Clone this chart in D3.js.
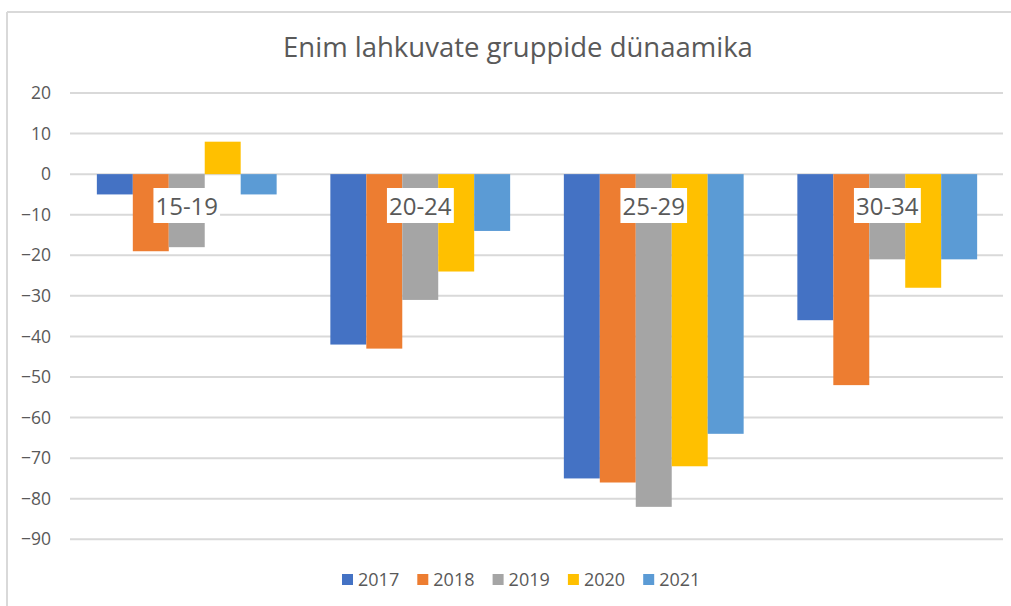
<!DOCTYPE html>
<html>
<head>
<meta charset="utf-8">
<script src="https://cdn.jsdelivr.net/npm/d3@7"></script>
<style>
  body { margin: 0; background: #fff; }
  text { font-family: "Open Sans", sans-serif; }
</style>
</head>
<body>
<script>
var svgW = 1011;
var svgH = 606;

var categories = ["15-19", "20-24", "25-29", "30-34"];
var years = ["2017", "2018", "2019", "2020", "2021"];
var v2017 = [-5, -42, -75, -36];
var v2018 = [-19, -43, -76, -52];
var v2019 = [-18, -31, -82, -21];
var v2020 = [8, -24, -72, -28];
var v2021 = [-5, -14, -64, -21];
var yTicks = [20, 10, 0, -10, -20, -30, -40, -50, -60, -70, -80, -90];
var colors = ["#4472c4", "#ed7d31", "#a5a5a5", "#ffc000", "#5b9bd5"];
var title = "Enim lahkuvate gruppide dünaamika";

var seriesVals = [v2017, v2018, v2019, v2020, v2021];

var svg = d3.select("body")
  .append("svg")
  .attr("width", svgW)
  .attr("height", svgH);

// chart frame (top + left edge visible)
svg.append("line")
  .attr("x1", 7).attr("x2", svgW)
  .attr("y1", 12).attr("y2", 12)
  .attr("stroke", "#d9d9d9").attr("stroke-width", 2);
svg.append("line")
  .attr("x1", 7).attr("x2", 7)
  .attr("y1", 12).attr("y2", svgH)
  .attr("stroke", "#d9d9d9").attr("stroke-width", 2);

svg.append("text")
  .attr("x", 518)
  .attr("y", 57)
  .attr("text-anchor", "middle")
  .attr("font-size", "27.5px")
  .attr("fill", "#595959")
  .text(title);

var y = d3.scaleLinear()
  .domain([-90, 20])
  .range([539.3, 93]);

var x = d3.scaleBand()
  .domain(categories)
  .range([70, 1004])
  .paddingInner(0.23)
  .paddingOuter(0.115);

var xSub = d3.scaleBand()
  .domain(years)
  .range([0, x.bandwidth()]);

// gridlines
svg.append("g")
  .selectAll("line")
  .data(yTicks)
  .enter()
  .append("line")
  .attr("x1", 70)
  .attr("x2", 1003)
  .attr("y1", function(d) { return y(d); })
  .attr("y2", function(d) { return y(d); })
  .attr("stroke", "#d9d9d9")
  .attr("stroke-width", 2);

// y axis labels
var yAxis = d3.axisLeft(y)
  .tickValues(yTicks)
  .tickSize(0)
  .tickPadding(0)
  .tickFormat(d3.format("d"));

var gy = svg.append("g")
  .attr("transform", "translate(51,0)")
  .call(yAxis);
gy.select(".domain").remove();
gy.selectAll("text")
  .attr("font-size", "17.5px")
  .attr("font-family", "Open Sans, sans-serif")
  .attr("fill", "#595959");

// bars
var groups = svg.append("g")
  .selectAll("g")
  .data(categories)
  .enter()
  .append("g")
  .attr("transform", function(d) { return "translate(" + x(d) + ",0)"; });

groups.selectAll("rect")
  .data(function(d, i) {
    return years.map(function(yr, j) {
      return { year: yr, value: seriesVals[j][i], idx: j };
    });
  })
  .enter()
  .append("rect")
  .attr("x", function(d) { return xSub(d.year); })
  .attr("width", xSub.bandwidth())
  .attr("y", function(d) { return y(Math.max(0, d.value)); })
  .attr("height", function(d) { return Math.abs(y(d.value) - y(0)); })
  .attr("fill", function(d) { return colors[d.idx]; });

// category labels with white box
var labels = svg.append("g")
  .selectAll("g")
  .data(categories)
  .enter()
  .append("g");

labels.append("text")
  .attr("x", function(d) { return x(d) + x.bandwidth() / 2; })
  .attr("y", y(-8))
  .attr("dy", "0.35em")
  .attr("text-anchor", "middle")
  .attr("font-size", "24px")
  .attr("fill", "#595959")
  .text(function(d) { return d; });

labels.each(function() {
  var g = d3.select(this);
  var bb = g.select("text").node().getBBox();
  g.insert("rect", "text")
    .attr("x", bb.x - 2)
    .attr("y", bb.y - 1)
    .attr("width", bb.width + 4)
    .attr("height", bb.height + 2)
    .attr("fill", "#ffffff");
});

// legend
var legend = svg.append("g")
  .selectAll("g")
  .data(years)
  .enter()
  .append("g")
  .attr("transform", function(d, i) { return "translate(" + (342 + i * 75.3) + ",580)"; });

legend.append("rect")
  .attr("x", 0)
  .attr("y", -6)
  .attr("width", 11)
  .attr("height", 11)
  .attr("fill", function(d, i) { return colors[i]; });

legend.append("text")
  .attr("x", 16)
  .attr("y", 0)
  .attr("dy", "0.35em")
  .attr("font-size", "18px")
  .attr("fill", "#595959")
  .text(function(d) { return d; });
</script>
</body>
</html>
